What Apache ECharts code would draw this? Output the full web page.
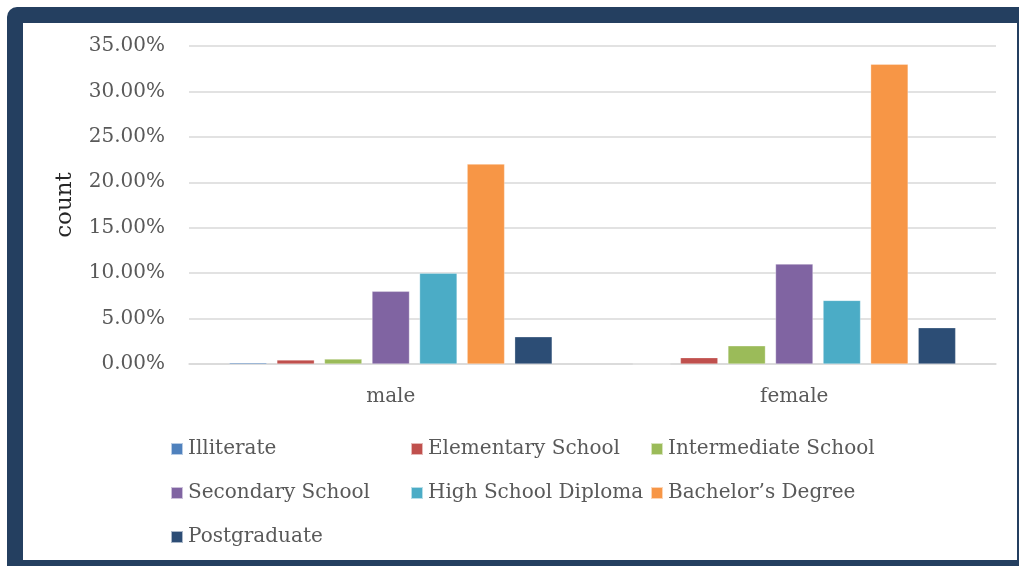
<!DOCTYPE html>
<html><head><meta charset="utf-8">
<script src="https://cdn.jsdelivr.net/npm/echarts@6/dist/echarts.min.js"></script>
<style>
html,body{margin:0;padding:0;background:#fff;width:1019px;height:566px;overflow:hidden;}
#outer{position:absolute;left:7px;top:7px;width:1012px;height:559px;background:#243F60;border-top-left-radius:10px;}
#inner{position:absolute;left:23px;top:23px;width:994px;height:537px;background:#fff;}
#chart{position:absolute;left:0;top:0;width:1019px;height:566px;}
</style></head>
<body>
<div id="outer"></div><div id="inner"></div>
<div id="chart"></div>
<script>
const categories = ['male', 'female'];
const seriesNames = ['Illiterate', 'Elementary School', 'Intermediate School', 'Secondary School', 'High School Diploma', 'Bachelor\u2019s Degree', 'Postgraduate'];
const illiterate = [0.15, 0];
const elementary = [0.45, 0.7];
const intermediate = [0.55, 2.0];
const secondary = [8.0, 11.0];
const highSchool = [10.0, 7.0];
const bachelor = [22.0, 33.0];
const postgraduate = [3.0, 4.0];
const colors = ['#4F81BD', '#C0504D', '#9BBB59', '#8064A2', '#4BACC6', '#F79646', '#2C4D75'];
const values = [illiterate, elementary, intermediate, secondary, highSchool, bachelor, postgraduate];

const font = 'DejaVu Serif';
const chart = echarts.init(document.getElementById('chart'), null, {renderer: 'canvas'});
const legendBase = {
  orient: 'vertical', top: 434, itemWidth: 12, itemHeight: 12, itemGap: 24,
  icon: 'rect',
  textStyle: {fontFamily: font, fontSize: 20, color: '#595959', lineHeight: 20}
};
chart.setOption({
  animation: false,
  backgroundColor: 'transparent',
  color: colors,
  grid: {left: 189, right: 23, top: 46, bottom: 202, containLabel: false},
  legend: [
    Object.assign({}, legendBase, {left: 165, data: [seriesNames[0], seriesNames[3], seriesNames[6]]}),
    Object.assign({}, legendBase, {left: 405, data: [seriesNames[1], seriesNames[4]]}),
    Object.assign({}, legendBase, {left: 645, data: [seriesNames[2], seriesNames[5]]})
  ],
  xAxis: {
    type: 'category', data: categories,
    axisLine: {lineStyle: {color: '#d9d9d9', width: 1.5}},
    axisTick: {show: false},
    axisLabel: {fontFamily: font, fontSize: 20, color: '#595959', margin: 23}
  },
  yAxis: {
    type: 'value', min: 0, max: 35, interval: 5,
    name: 'count', nameLocation: 'middle', nameGap: 112, nameRotate: 90,
    nameTextStyle: {fontFamily: font, fontSize: 23, color: '#262626'},
    axisLine: {show: false}, axisTick: {show: false},
    splitLine: {lineStyle: {color: '#d9d9d9', width: 1.5}},
    axisLabel: {fontFamily: font, fontSize: 20, color: '#595959', margin: 24,
      formatter: v => v.toFixed(2) + '%'}
  },
  series: seriesNames.map((n, i) => ({
    name: n, type: 'bar', data: values[i],
    barCategoryGap: '20%', barGap: '27%',
    itemStyle: {color: colors[i], borderColor: 'rgba(255,255,255,0.6)', borderWidth: 0.5}
  }))
});
</script>
</body></html>
